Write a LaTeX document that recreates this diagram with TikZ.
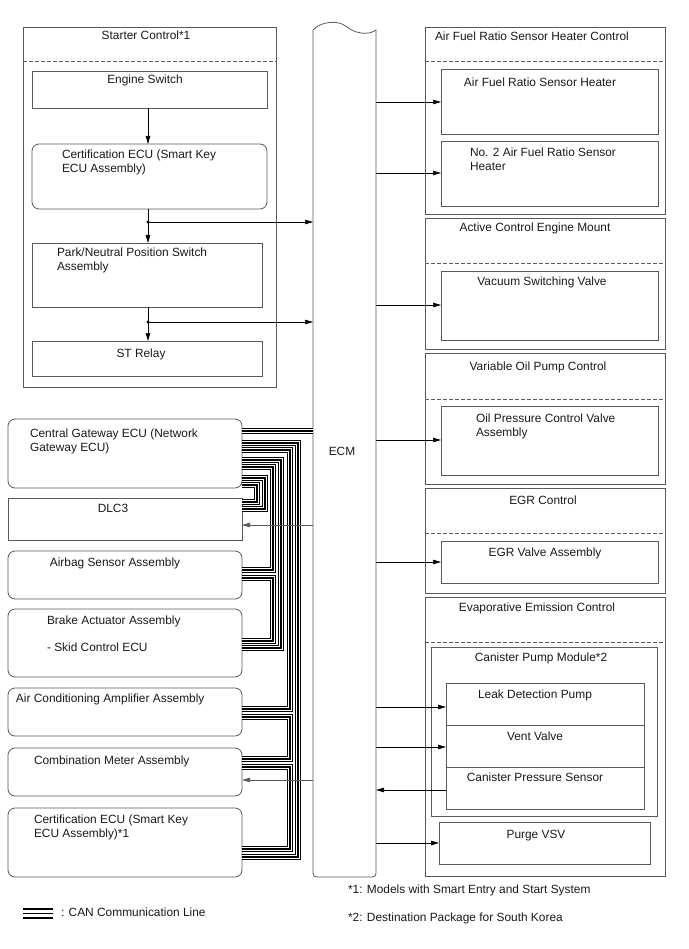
\documentclass[tikz,border=0pt]{standalone}
\usepackage{fontspec}
\setmainfont{Liberation Sans}
\usetikzlibrary{arrows.meta}
\definecolor{bord}{HTML}{5A5A5A}
\definecolor{txt}{HTML}{1A1A1A}
\tikzset{
  box/.style={draw=bord, line width=0.8pt, inner sep=0pt, outer sep=0pt, anchor=north west},
  rbox/.style={box, rounded corners=7pt},
  lbl/.style={text=txt, inner sep=0pt, outer sep=0pt, font=\fontsize{11.9}{14}\selectfont, align=left},
  arr/.style={draw=black, line width=0.7pt, -{Triangle[length=8pt,width=4.5pt]}},
  dsh/.style={draw=bord, line width=0.8pt, dash pattern=on 3.5pt off 2.5pt},
  can/.style={draw=black, line width=6pt, line join=miter, line cap=butt,
    postaction={draw=white, line width=3.4pt},
    postaction={draw=black, line width=1.4pt}},
}
\newcommand\mkbox[6]{\node[#1, minimum width={(#5-#3)*1pt}, minimum height={(#6-#4)*1pt}] (#2) at (#3,#4) {};}
\begin{document}
\begin{tikzpicture}[x=1pt,y=-1pt]
\useasboundingbox[fill=white] (0,0) rectangle (688,949);

% ECM
\node[inner sep=0pt, outer sep=0pt, minimum width=63pt, minimum height=854pt, anchor=north west] (ecm) at (313,23) {};
\draw[draw=bord, line width=0.8pt] (313,30) .. controls (320,22) and (338,19) .. (347,27) .. controls (354,33) and (368,36) .. (376,30) -- (376,869) .. controls (376,877) .. (368,877) -- (321,877) .. controls (313,877) .. (313,869) -- cycle;
\node[lbl, anchor=base] (tecm) at (342,455) {ECM};

% Starter control
\mkbox{box}{sc}{23}{27}{276}{387}
\draw[dsh] (sc.west |- 0,61) -- (sc.east |- 0,61);
\mkbox{box}{es}{32}{71}{267}{108}
\mkbox{rbox}{cert}{32}{144}{267}{209}
\mkbox{box}{pnp}{32}{243}{262}{307}
\mkbox{box}{st}{32}{341}{262}{376}
\node[lbl, anchor=base] (tsc) at (146,40) {Starter Control*1};
\node[lbl, anchor=base] (tes) at (145,84) {Engine Switch};
\node[lbl, anchor=base west] (tcert) at (62,173) {Certification ECU (Smart Key\\ECU Assembly)};
\node[lbl, anchor=base west] (tpnp) at (57,271) {Park/Neutral Position Switch\\Assembly};
\node[lbl, anchor=base] (tst) at (141,357) {ST Relay};
\coordinate (j1) at (148,222);
\coordinate (j2) at (148,322);
\draw[arr] (es.south -| j1) -- (cert.north -| j1);
\draw[arr] (cert.south -| j1) -- (pnp.north -| j1);
\draw[arr] (pnp.south -| j1) -- (st.north -| j1);
\fill (j1) circle[radius=1.6pt];
\fill (j2) circle[radius=1.6pt];
\draw[arr] (j1) -- (j1 -| ecm.west);
\draw[arr] (j2) -- (j2 -| ecm.west);

% Right: AFR
\mkbox{box}{afr}{425}{27}{665}{214}
\draw[dsh] (afr.west |- 0,61) -- (afr.east |- 0,61);
\mkbox{box}{afrh}{441}{69}{658}{134}
\mkbox{box}{afrh2}{441}{141}{658}{206}
\node[lbl, anchor=base west] (tafr) at (435,41) {Air Fuel Ratio Sensor Heater Control};
\node[lbl, anchor=base] (tafrh) at (540,87) {Air Fuel Ratio Sensor Heater};
\node[lbl, anchor=base west] (tafrh2) at (470,171) {No. 2 Air Fuel Ratio Sensor\\Heater};
\draw[arr] (ecm.east |- 0,102) -- (afrh.west |- 0,102);
\draw[arr] (ecm.east |- 0,173) -- (afrh2.west |- 0,173);

% ACEM
\mkbox{box}{acem}{425}{218}{665}{349}
\draw[dsh] (acem.west |- 0,263) -- (acem.east |- 0,263);
\mkbox{box}{vsv}{441}{271}{658}{340}
\node[lbl, anchor=base] (tacem) at (535,232) {Active Control Engine Mount};
\node[lbl, anchor=base] (tvsv) at (542,286) {Vacuum Switching Valve};
\draw[arr] (ecm.east |- 0,305) -- (vsv.west |- 0,305);

% VOPC
\mkbox{box}{vopc}{425}{353}{665}{484}
\draw[dsh] (vopc.west |- 0,399) -- (vopc.east |- 0,399);
\mkbox{box}{opcv}{441}{406}{658}{475}
\node[lbl, anchor=base] (tvopc) at (538,370) {Variable Oil Pump Control};
\node[lbl, anchor=base west] (topcv) at (476,436) {Oil Pressure Control Valve\\Assembly};
\draw[arr] (ecm.east |- 0,440) -- (opcv.west |- 0,440);

% EGR
\mkbox{box}{egr}{425}{488}{665}{593}
\draw[dsh] (egr.west |- 0,533) -- (egr.east |- 0,533);
\mkbox{box}{egrv}{441}{541}{658}{583}
\node[lbl, anchor=base] (tegr) at (543,504) {EGR Control};
\node[lbl, anchor=base] (tegrv) at (545,556) {EGR Valve Assembly};
\draw[arr] (ecm.east |- 0,562) -- (egrv.west |- 0,562);

% EEC
\mkbox{box}{eec}{425}{597}{665}{876}
\draw[dsh] (eec.west |- 0,642) -- (eec.east |- 0,642);
\mkbox{box}{cpm}{431}{647}{657}{816}
\mkbox{box}{ldp}{446}{683}{644}{725}
\mkbox{box}{vv}{446}{725}{644}{767}
\mkbox{box}{cps}{446}{767}{644}{809}
\mkbox{box}{pvsv}{439}{822}{650}{864}
\node[lbl, anchor=base] (teec) at (537,611) {Evaporative Emission Control};
\node[lbl, anchor=base] (tcpm) at (541,661) {Canister Pump Module*2};
\node[lbl, anchor=base] (tldp) at (535,698) {Leak Detection Pump};
\node[lbl, anchor=base] (tvv) at (535,740) {Vent Valve};
\node[lbl, anchor=base] (tcps) at (535,781) {Canister Pressure Sensor};
\node[lbl, anchor=base] (tpvsv) at (536,838) {Purge VSV};
\draw[arr] (ecm.east |- 0,707) -- (ldp.west |- 0,707);
\draw[arr] (ecm.east |- 0,747) -- (vv.west |- 0,747);
\draw[arr] (cps.west |- 0,790) -- (ecm.east |- 0,790);
\draw[arr] (ecm.east |- 0,843) -- (pvsv.west |- 0,843);

% footnotes
\node[lbl, anchor=base west] (fn1) at (348,893) {*1: Models with Smart Entry and Start System};
\node[lbl, anchor=base west] (fn2) at (348,921) {*2: Destination Package for South Korea};

% Left ECUs
\mkbox{rbox}{gw}{8}{419}{242}{488}
\mkbox{box}{dlc}{8}{498}{242}{540}
\mkbox{rbox}{ab}{8}{551}{242}{599}
\mkbox{rbox}{ba}{8}{609}{242}{677}
\mkbox{rbox}{ac}{8}{688}{242}{736}
\mkbox{rbox}{cm}{8}{748}{242}{796}
\mkbox{rbox}{ce}{8}{808}{242}{877}
\node[lbl, anchor=base west] (tgw) at (30,451) {Central Gateway ECU (Network\\Gateway ECU)};
\node[lbl, anchor=base] (tdlc) at (113,512) {DLC3};
\node[lbl, anchor=base] (tab) at (115,566) {Airbag Sensor Assembly};
\node[lbl, anchor=base west] (tba) at (47,624) {Brake Actuator Assembly};
\node[lbl, anchor=base west] (tba2) at (47,651) {- Skid Control ECU};
\node[lbl, anchor=base west] (tac) at (16,702) {Air Conditioning Amplifier Assembly};
\node[lbl, anchor=base west] (tcm) at (34,764) {Combination Meter Assembly};
\node[lbl, anchor=base west] (tce) at (34,837) {Certification ECU (Smart Key\\ECU Assembly)*1};

% CAN lines
\draw[can] (gw.east |- 0,431) -- (ecm.west |- 0,431);
\draw[can] (gw.east |- 0,443) -| (298,857) -- (ce.east |- 0,857);
\draw[can] (gw.east |- 0,450) -| (290,709) -- (ac.east |- 0,709);
\draw[can] (ac.east |- 0,717) -| (290,759) -- (cm.east |- 0,759);
\draw[can] (cm.east |- 0,767) -| (290,849) -- (ce.east |- 0,849);
\draw[can] (gw.east |- 0,460) -| (281,648) -- (ba.east |- 0,648);
\draw[can] (gw.east |- 0,467) -| (273,570) -- (ab.east |- 0,570);
\draw[can] (ab.east |- 0,578) -| (273,641) -- (ba.east |- 0,641);
\draw[can] (gw.east |- 0,478) -| (265,509) -- (dlc.east |- 0,509);
\draw[can] (gw.east |- 0,485) -| (257,502) -- (dlc.east |- 0,502);

\draw[arr, draw=bord] (ecm.west |- 0,525) -- (dlc.east |- 0,525);
\draw[arr, draw=bord] (ecm.west |- 0,780) -- (cm.east |- 0,780);

% legend
\draw[black, line width=2pt] (23,909) -- (53,909);
\draw[black, line width=1.5pt] (23,913.5) -- (53,913.5);
\draw[black, line width=2pt] (23,918) -- (53,918);
\node[lbl, anchor=base west] (tleg) at (61,916) {: CAN Communication Line};
\end{tikzpicture}
\end{document}
